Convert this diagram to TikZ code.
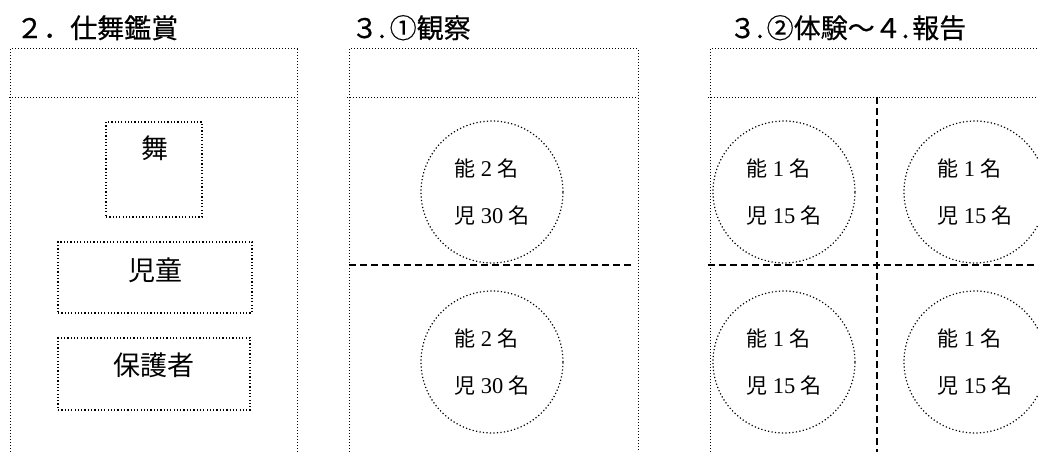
\documentclass[tikz,border=0pt]{standalone}
\usepackage{fontspec}
\newfontfamily\jp{Noto Sans CJK JP}
\newfontfamily\jph[FakeBold=0.5]{Noto Sans CJK JP}
\newfontfamily\numf{Liberation Serif}
\newcommand{\jk}[1]{{\jp\fontsize{21}{47}\selectfont #1}}
\begin{document}
\begin{tikzpicture}[x=1pt,y=-1pt,
  frame/.style={line width=1pt, dash pattern=on 1pt off 2pt},
  ibox/.style={draw, line width=1.2pt, dash pattern=on 1.2pt off 2.1pt, inner sep=0pt},
  ring/.style={circle, draw, line width=1.2pt, dash pattern=on 1.2pt off 2.3pt, minimum size=142pt, inner sep=0pt, align=left, font=\numf\fontsize{22.5}{47}\selectfont},
  split/.style={line width=1.6pt, dash pattern=on 7pt off 4pt},
  title/.style={anchor=base west, font=\jph\fontsize{27}{30}\selectfont, inner sep=0pt},
  lbl/.style={font=\jp\fontsize{27}{30}\selectfont, inner sep=0pt, anchor=base}]
\useasboundingbox (0,0) rectangle (1038,452);

% titles
\node[title] (t1) at (16,38) {２．仕舞鑑賞};
\node[title] (t2) at (351,38) {３.\kern4pt①観察};
\node[title] (t3) at (729,38) {３.\kern3pt②体験～４.\kern3pt報告};

% panel 1
\draw[frame] (10,452) -- (10,49) -- (297,49) -- (297,452);
\draw[frame] (9,97) -- (297,97);
\node[ibox, minimum width=96pt, minimum height=95pt] (mai) at (154,169.5) {};
\node[lbl] (maiT) at (155,158) {舞};
\node[ibox, minimum width=194pt, minimum height=71pt] (jido) at (155,277.5) {};
\node[lbl] (jidoT) at (155,280) {児童};
\node[ibox, minimum width=192pt, minimum height=72pt] (hogo) at (154,374) {};
\node[lbl] (hogoT) at (154,375) {保護者};

% panel 2
\draw[frame] (349,452) -- (349,49) -- (638,49) -- (638,452);
\draw[frame] (347,97) -- (638,97);
\draw[split] (349,265) -- (634,265);
\node[ring] (c21) at (492,192) {\jk{能} 2 \jk{名}\\\jk{児} 30 \jk{名}};
\node[ring] (c22) at (492,362) {\jk{能} 2 \jk{名}\\\jk{児} 30 \jk{名}};

% panel 3
\draw[frame] (710,452) -- (710,49) -- (1038,49);
\draw[frame] (708,97) -- (1038,97);
\draw[split] (877,97) -- (877,452);
\draw[split] (708,265) -- (1038,265);
\node[ring] (c31) at (784,192) {\jk{能} 1 \jk{名}\\\jk{児} 15 \jk{名}};
\node[ring] (c32) at (975,192) {\jk{能} 1 \jk{名}\\\jk{児} 15 \jk{名}};
\node[ring] (c33) at (784,362) {\jk{能} 1 \jk{名}\\\jk{児} 15 \jk{名}};
\node[ring] (c34) at (975,362) {\jk{能} 1 \jk{名}\\\jk{児} 15 \jk{名}};
\end{tikzpicture}
\end{document}
